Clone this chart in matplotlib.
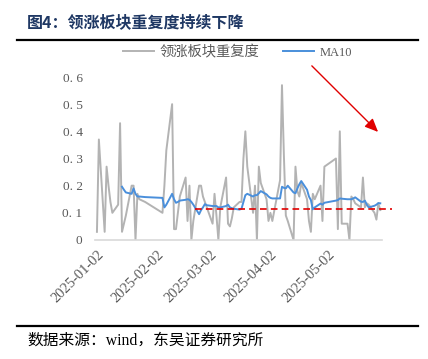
import matplotlib
matplotlib.use("Agg")
import matplotlib.pyplot as plt
import matplotlib.dates as mdates
import numpy as np
import pandas as pd

plt.rcParams['font.family'] = ['Liberation Serif', 'Noto Sans CJK SC']

# trading days, 2025-01-02 .. 2025-05-29
dates = [
    "2025-01-02", "2025-01-03", "2025-01-06", "2025-01-07", "2025-01-08", "2025-01-09",
    "2025-01-10", "2025-01-13", "2025-01-14", "2025-01-15", "2025-01-16", "2025-01-17",
    "2025-01-20", "2025-01-21", "2025-01-22", "2025-01-23", "2025-01-24", "2025-01-27",
    "2025-02-05", "2025-02-06", "2025-02-07", "2025-02-10", "2025-02-11", "2025-02-12",
    "2025-02-13", "2025-02-14", "2025-02-17", "2025-02-18", "2025-02-19", "2025-02-20",
    "2025-02-21", "2025-02-24", "2025-02-25", "2025-02-26", "2025-02-27", "2025-02-28",
    "2025-03-03", "2025-03-04", "2025-03-05", "2025-03-06", "2025-03-07",
    "2025-03-10", "2025-03-11", "2025-03-12", "2025-03-13", "2025-03-14",
    "2025-03-17", "2025-03-18", "2025-03-19", "2025-03-20", "2025-03-21",
    "2025-03-24", "2025-03-25", "2025-03-26", "2025-03-27", "2025-03-28", "2025-03-31",
    "2025-04-01", "2025-04-02", "2025-04-03",
    "2025-04-07", "2025-04-08", "2025-04-09", "2025-04-10", "2025-04-11",
    "2025-04-14", "2025-04-15", "2025-04-16", "2025-04-17", "2025-04-18",
    "2025-04-21", "2025-04-22", "2025-04-23", "2025-04-24", "2025-04-25",
    "2025-04-28", "2025-04-29", "2025-04-30",
    "2025-05-06", "2025-05-07", "2025-05-08", "2025-05-09",
    "2025-05-12", "2025-05-13", "2025-05-14", "2025-05-15", "2025-05-16",
    "2025-05-19", "2025-05-20", "2025-05-21", "2025-05-22", "2025-05-23",
    "2025-05-26", "2025-05-27", "2025-05-28", "2025-05-29",
]

repeat_rate = [
    0.03, 0.37, 0.03, 0.27, 0.20, 0.14, 0.10, 0.13, 0.43, 0.03, 0.06, 0.09,
    0.20, 0.20, 0.00, 0.17, 0.15, 0.14,
    0.10, 0.20, 0.33, 0.50, 0.04, 0.04, 0.10, 0.16, 0.23, 0.07, 0.20, 0.00,
    0.07, 0.20, 0.20, 0.16, 0.14, 0.12,
    0.06, 0.17, 0.09, 0.00, 0.12,
    0.23, 0.06, 0.05, 0.08, 0.12,
    0.14, 0.14, 0.30, 0.40, 0.27,
    0.10, 0.20, 0.00, 0.27, 0.21, 0.15,
    0.07, 0.10, 0.07,
    0.22, 0.57, 0.31, 0.09, 0.07,
    0.00, 0.27, 0.18, 0.16, 0.21,
    0.15, 0.07, 0.03, 0.17, 0.15,
    0.20, 0.07, 0.27,
    0.30, 0.04, 0.40, 0.06,
    0.06, 0.00, 0.16, 0.15, 0.135,
    0.12, 0.23, 0.12, 0.135, 0.13,
    0.10, 0.075, 0.135, 0.11,
]

ma10 = [
    np.nan, np.nan, np.nan, np.nan, np.nan, np.nan, np.nan, np.nan, np.nan,
    0.196, 0.185, 0.175, 0.17, 0.19, 0.17, 0.16, 0.16, 0.158,
    0.155, 0.12, 0.13, 0.17, 0.15, 0.137, 0.14, 0.145, 0.148, 0.15, 0.148, 0.14,
    0.13, 0.095, 0.11, 0.12, 0.132, 0.128,
    0.125, 0.125, 0.125, 0.12, 0.12,
    0.125, 0.13, 0.12, 0.117, 0.115,
    0.112, 0.115, 0.14, 0.165, 0.17,
    0.16, 0.165, 0.165, 0.172, 0.18, 0.168,
    0.16, 0.155, 0.153,
    0.153, 0.196, 0.192, 0.19, 0.20,
    0.175, 0.172, 0.19, 0.205, 0.217,
    0.185, 0.16, 0.147, 0.113, 0.12,
    0.134, 0.13, 0.137,
    0.145, 0.147, 0.153, 0.152,
    0.15, 0.15, 0.15, 0.153, 0.157,
    0.141, 0.14, 0.145, 0.13, 0.12,
    0.126, 0.13, 0.136, 0.135,
]

ref_level = 0.113
ref_span = ("2025-02-22", "2025-06-04")

x = pd.to_datetime(dates)
gray = "#B3B3B3"
blue = "#4A8FDB"
tick_gray = "#595959"

fig = plt.figure(figsize=(4.28, 3.59), dpi=100)
ax = fig.add_axes([0.222, 0.3315, 0.671, 0.454])

ax.plot(x, repeat_rate, color=gray, lw=1.4, label="领涨板块重复度")
ax.plot(x, ma10, color=blue, lw=1.4, label="MA10")
ax.plot(pd.to_datetime(list(ref_span)), [ref_level, ref_level], color="#E00000",
        lw=1.2, ls=(0, (4, 2.5)), clip_on=False)

ax.set_ylim(0, 0.6)
ax.set_yticks([0, 0.1, 0.2, 0.3, 0.4, 0.5, 0.6])
ax.set_yticklabels(["0", "0. 1", "0. 2", "0. 3", "0. 4", "0. 5", "0. 6"])
ax.set_xlim(pd.Timestamp("2025-01-01"), pd.Timestamp("2025-05-30"))
ax.xaxis.set_major_locator(mdates.MonthLocator(bymonthday=2))
ax.xaxis.set_major_formatter(mdates.DateFormatter("%Y-%m-%d"))

ax.tick_params(length=0, colors=tick_gray, labelsize=9.5)
ax.tick_params(axis="y", pad=9)
ax.tick_params(axis="x", pad=6, labelsize=10.5)
for lab in ax.get_xticklabels():
    lab.set_rotation(45)
    lab.set_ha("right")
    lab.set_rotation_mode("anchor")
for s in ["top", "right", "left"]:
    ax.spines[s].set_visible(False)
ax.spines["bottom"].set_color("#D9D9D9")
ax.spines["bottom"].set_linewidth(1.2)

leg = fig.legend(loc="center", bbox_to_anchor=(0.555, 0.855), ncol=2, frameon=False,
                 fontsize=10.3, handlelength=2.2, columnspacing=1.6, handletextpad=0.4)
for t in leg.get_texts():
    t.set_color(tick_gray)
leg.get_texts()[1].set_fontsize(9)

# red arrow
ax.annotate("", xy=(0.888, 0.627), xycoords="figure fraction",
            xytext=(0.724, 0.822), textcoords="figure fraction",
            arrowprops=dict(arrowstyle="-|>,head_length=0.8,head_width=0.35",
                            color="#E00000", lw=1.0))

# title, rules, source
fig.text(0.063, 0.938, "图4：领涨板块重复度持续下降", fontsize=11.5, fontweight="bold",
         color="#1F3864", va="center", family=["Noto Sans CJK SC"])
fig.add_artist(plt.Line2D([0.04, 0.977], [0.889, 0.889], color="black", lw=1.6))
fig.add_artist(plt.Line2D([0.04, 0.977], [0.092, 0.092], color="black", lw=1.6))
fig.text(0.063, 0.052, "数据来源：wind，东吴证券研究所", fontsize=11.3, color="black",
         va="center")

fig.savefig("out.png", dpi=100)
